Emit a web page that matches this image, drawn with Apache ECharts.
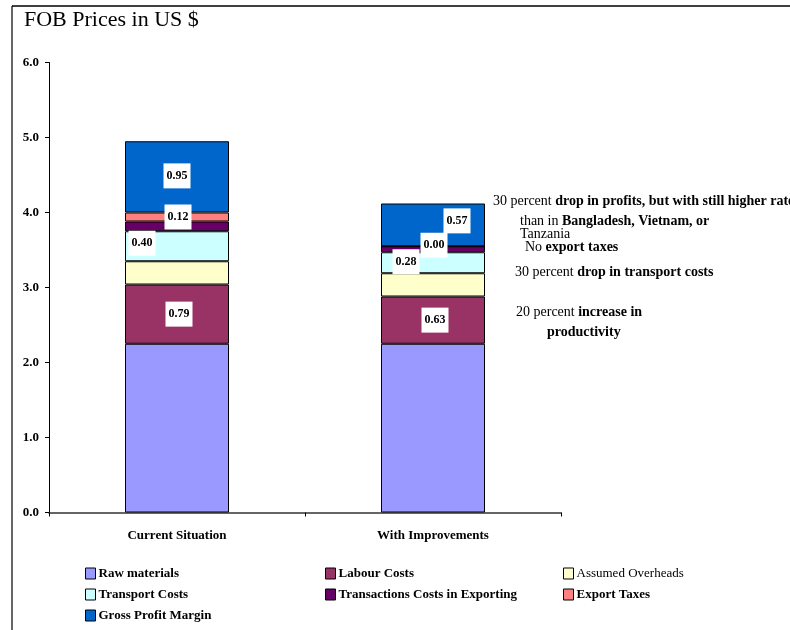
<!DOCTYPE html>
<html>
<head>
<meta charset="utf-8">
<script src="https://cdn.jsdelivr.net/npm/echarts@6/dist/echarts.min.js"></script>
<style>html,body{margin:0;padding:0;background:#fff}#c{width:790px;height:630px}</style>
</head>
<body>
<div id="c"></div>
<script>
var categories = ['Current Situation', 'With Improvements'];
var rawMaterials = [2.25, 2.25];
var labourCosts = [0.79, 0.63];
var assumedOverheads = [0.31, 0.31];
var transportCosts = [0.40, 0.28];
var transactionCosts = [0.13, 0.08];
var exportTaxes = [0.12, 0.00];
var grossProfit = [0.95, 0.57];
var yTicks = [0, 1, 2, 3, 4, 5, 6];
var seriesNames = ['Raw materials', 'Labour Costs', 'Assumed Overheads', 'Transport Costs',
  'Transactions Costs in Exporting', 'Export Taxes', 'Gross Profit Margin'];
var annotations = [
  ['30 percent ', 'drop in profits, but with still higher rates'],
  ['than in ', 'Bangladesh, Vietnam, or'],
  ['Tanzania', ''],
  ['No ', 'export taxes'],
  ['30 percent ', 'drop in transport costs'],
  ['20 percent ', 'increase in'],
  ['', 'productivity']
];

var FONT = '"Liberation Serif", "DejaVu Serif", serif';
var colors = ['#9999FF', '#993366', '#FFFFCC', '#CCFFFF', '#660066', '#FF8080', '#0066CC'];
var allData = [rawMaterials, labourCosts, assumedOverheads, transportCosts, transactionCosts, exportTaxes, grossProfit];

// label placement per series per category (null = no label)
var labelOffsets = [
  [null, null],
  [[2, 0], [2, 0]],
  [null, null],
  [[-35, -3], [-27, -1]],
  [null, null],
  [[1, 0], [1, -1]],
  [[0, -1], [24, -4]]
];

var labelStyle = {
  show: true, position: 'inside', color: '#000', fontFamily: FONT, fontWeight: 'bold',
  fontSize: 12, backgroundColor: '#fff', padding: [7, 3, 6, 3],
  formatter: function (p) { return Number(p.value).toFixed(2); }
};

var series = allData.map(function (arr, si) {
  return {
    name: seriesNames[si], type: 'bar', stack: 'total', barWidth: 104,
    itemStyle: { color: colors[si], borderColor: '#000', borderWidth: 1 },
    emphasis: { disabled: true },
    data: arr.map(function (v, ci) {
      var off = labelOffsets[si][ci];
      var item = { value: v };
      if (off) {
        item.label = Object.assign({}, labelStyle, { offset: off });
      } else {
        item.label = { show: false };
      }
      return item;
    })
  };
});

function legendComp(left, names) {
  return {
    orient: 'vertical', left: left, top: 566, height: 80, padding: 0,
    itemWidth: 10, itemHeight: 11, itemGap: 6,
    icon: 'rect', selectedMode: false,
    itemStyle: { borderColor: '#000', borderWidth: 1 },
    textStyle: { fontFamily: FONT, fontWeight: 'bold', fontSize: 13, color: '#000', lineHeight: 15, padding: [0, 0, 0, -2] },
    data: names.map(function (n) {
      return n === 'Assumed Overheads' ? { name: n, textStyle: { fontWeight: 'normal' } } : { name: n };
    })
  };
}

var annPos = [[493, 201], [520, 221], [520, 234], [525, 247], [515, 272], [516, 312], [547, 332]];
var graphics = [
  { type: 'line', shape: { x1: 12, y1: 6, x2: 12, y2: 630 }, style: { stroke: '#333', lineWidth: 1.5 } },
  { type: 'line', shape: { x1: 12, y1: 6, x2: 790, y2: 6 }, style: { stroke: '#000', lineWidth: 1.5 } },
  { type: 'text', left: 24, top: 9, style: { text: 'FOB Prices in US $', font: '22px ' + FONT, fill: '#000' } }
];
annotations.forEach(function (a, i) {
  graphics.push({
    type: 'text', x: annPos[i][0], y: annPos[i][1],
    style: {
      text: (a[0] ? '{r|' + a[0] + '}' : '') + (a[1] ? '{b|' + a[1] + '}' : ''),
      verticalAlign: 'middle', fill: '#000',
      rich: {
        r: { fontFamily: FONT, fontSize: 14, fontWeight: 'normal', fill: '#000' },
        b: { fontFamily: FONT, fontSize: 14, fontWeight: 'bold', fill: '#000' }
      }
    }
  });
});

var option = {
  animation: false,
  backgroundColor: '#fff',
  grid: { left: 49, right: 229, top: 62.5, bottom: 117.5, containLabel: false },
  xAxis: {
    type: 'category', data: categories, boundaryGap: true,
    axisLine: { lineStyle: { color: '#333', width: 1.5 } },
    axisTick: { show: true, alignWithLabel: false, length: 4, lineStyle: { color: '#000' } },
    axisLabel: { margin: 17, fontFamily: FONT, fontWeight: 'bold', fontSize: 13, color: '#000' }
  },
  yAxis: {
    type: 'value', min: yTicks[0], max: yTicks[yTicks.length - 1], interval: 1,
    axisLine: { show: true, lineStyle: { color: '#000', width: 1 } },
    axisTick: { show: true, length: 4, lineStyle: { color: '#000' } },
    splitLine: { show: false },
    axisLabel: { margin: 10, fontFamily: FONT, fontWeight: 'bold', fontSize: 13, color: '#000',
      formatter: function (v) { return v.toFixed(1); } }
  },
  legend: [
    legendComp(85, ['Raw materials', 'Transport Costs', 'Gross Profit Margin']),
    legendComp(325, ['Labour Costs', 'Transactions Costs in Exporting']),
    legendComp(563, ['Assumed Overheads', 'Export Taxes'])
  ],
  graphic: graphics,
  series: series
};

var chart = echarts.init(document.getElementById('c'), null, { renderer: 'canvas' });
chart.setOption(option);
</script>
</body>
</html>
